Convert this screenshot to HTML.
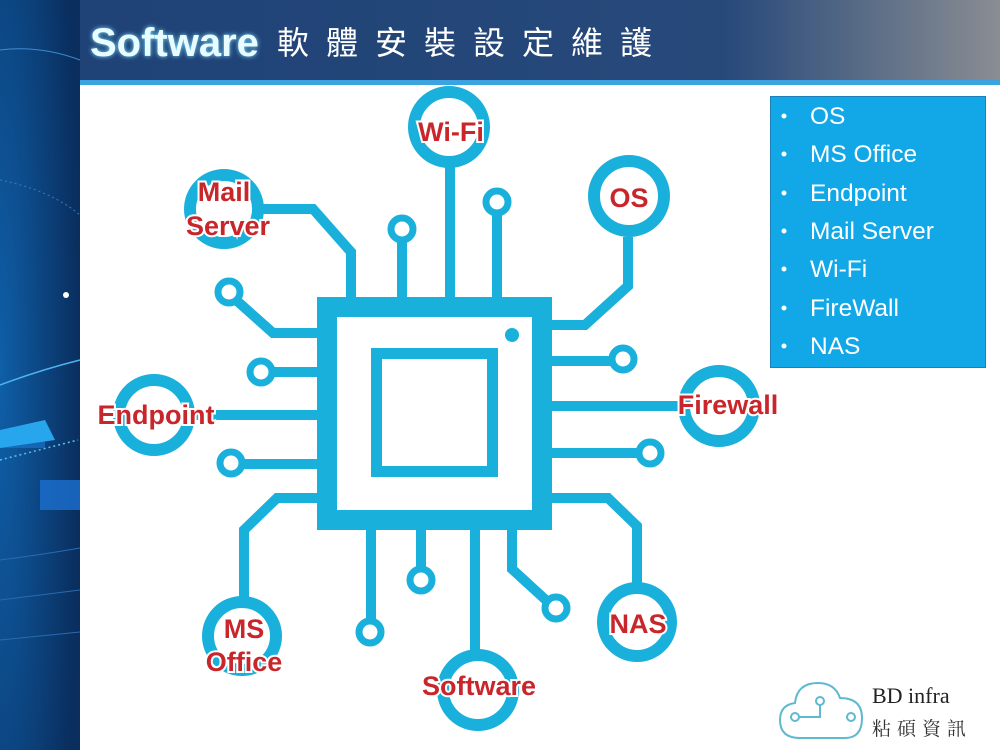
<!DOCTYPE html>
<html><head><meta charset="utf-8"><style>
html,body{margin:0;padding:0;width:1000px;height:750px;overflow:hidden;background:#fff}
svg{display:block}
.lbl{font-family:"Liberation Sans",sans-serif;font-weight:bold;font-size:27px;fill:#c8262b;stroke:#fff;stroke-width:4px;paint-order:stroke;text-anchor:middle}
.li{font-family:"Liberation Sans",sans-serif;font-size:24.5px;fill:#fff}
</style></head><body>
<svg width="1000" height="750" viewBox="0 0 1000 750" xmlns="http://www.w3.org/2000/svg">
<defs>
<linearGradient id="tb" x1="0" x2="1" y1="0" y2="0">
<stop offset="0" stop-color="#1f4277"/><stop offset="0.7" stop-color="#27497a"/><stop offset="1" stop-color="#8a8d92"/>
</linearGradient>
<radialGradient id="lp" cx="0" cy="0.5" r="1">
<stop offset="0" stop-color="#0f5fa8"/><stop offset="1" stop-color="#0a2e5e"/>
</radialGradient>
<filter id="gl"><feGaussianBlur stdDeviation="2.5"/></filter>
</defs>
<rect x="0" y="0" width="80" height="750" fill="url(#lp)"/>
<path d="M0 50 Q40 45 80 60" stroke="#3d8ad0" stroke-width="1" fill="none"/>
<path d="M0 180 Q50 190 80 215" stroke="#2f7fd0" stroke-width="1" fill="none" stroke-dasharray="2 3"/>
<path d="M0 385 Q40 370 80 360" stroke="#4db4f0" stroke-width="1.5" fill="none"/>
<path d="M0 460 L78 440" stroke="#5bc0f0" stroke-width="1.5" fill="none" stroke-dasharray="2 3"/>
<rect x="0" y="430" width="45" height="18" fill="#1a7ad0" opacity="0.6"/>
<path d="M0 430 L45 420 L55 440 L0 448Z" fill="#27a6ee"/>
<rect x="40" y="480" width="40" height="30" fill="#1b6fd0" opacity="0.8"/>
<circle cx="66" cy="295" r="3" fill="#fff"/>
<path d="M0 560 Q40 555 80 548 M0 600 Q40 595 80 590 M0 640 Q40 636 80 632" stroke="#2a6ab0" stroke-width="1" fill="none"/>
<rect x="80" y="0" width="920" height="82" fill="url(#tb)"/>
<rect x="80" y="80" width="920" height="5" fill="#3aa3e0"/>
<text x="90" y="56" font-family="Liberation Sans,sans-serif" font-weight="bold" font-size="40" fill="#7fe0ff" filter="url(#gl)">Software</text>
<text x="90" y="56" font-family="Liberation Sans,sans-serif" font-weight="bold" font-size="40" fill="#e8fbff">Software</text>
<text x="277" y="54" font-family="Liberation Sans,'Noto Sans CJK TC',sans-serif" font-size="32" fill="#fff" letter-spacing="17">軟體安裝設定維護</text>
<g stroke="#1ab0dc" fill="none">
<rect x="327" y="307" width="215" height="213" stroke-width="20"/>
<rect x="376.5" y="353.5" width="116" height="118" stroke-width="11"/>
<g stroke-width="10" stroke-linejoin="miter">
<polyline points="262,209 313,209 351,252 351,297"/>
<line x1="402" y1="240" x2="402" y2="297"/>
<line x1="450" y1="167" x2="450" y2="297"/>
<line x1="497" y1="214" x2="497" y2="297"/>
<polyline points="628,237 628,286 585,325 552,325"/>
<line x1="552" y1="361" x2="611" y2="361"/>
<line x1="552" y1="406" x2="680" y2="406"/>
<line x1="552" y1="453" x2="638" y2="453"/>
<polyline points="552,498 608,498 637,526 637,583"/>
<line x1="371" y1="530" x2="371" y2="622"/>
<line x1="421" y1="530" x2="421" y2="568"/>
<line x1="475" y1="530" x2="475" y2="650"/>
<polyline points="512,530 512,569 548,602"/>
<polyline points="317,333 273,333 236,300"/>
<line x1="317" y1="372" x2="272" y2="372"/>
<line x1="317" y1="415" x2="192" y2="415"/>
<line x1="317" y1="464" x2="243" y2="464"/>
<polyline points="317,498 277,498 244,530 244,598"/>
</g>
<g stroke-width="12">
<circle cx="224" cy="209" r="34"/>
<circle cx="449" cy="127" r="35"/>
<circle cx="629" cy="196" r="35"/>
<circle cx="719" cy="406" r="35"/>
<circle cx="637" cy="622" r="34"/>
<circle cx="478" cy="690" r="35"/>
<circle cx="242" cy="636" r="34"/>
<circle cx="154" cy="415" r="35"/>
</g>
<g stroke-width="7">
<circle cx="402" cy="229" r="11"/>
<circle cx="497" cy="202" r="11"/>
<circle cx="229" cy="292" r="11"/>
<circle cx="261" cy="372" r="11"/>
<circle cx="231" cy="463" r="11"/>
<circle cx="623" cy="359" r="11"/>
<circle cx="650" cy="453" r="11"/>
<circle cx="421" cy="580" r="11"/>
<circle cx="370" cy="632" r="11"/>
<circle cx="556" cy="608" r="11"/>
</g>
</g>
<circle cx="512" cy="335" r="7" fill="#1ab0dc"/>
<text class="lbl" x="451" y="141">Wi-Fi</text>
<text class="lbl" x="224" y="201">Mail</text>
<text class="lbl" x="228" y="235">Server</text>
<text class="lbl" x="629" y="207">OS</text>
<text class="lbl" x="156" y="424">Endpoint</text>
<text class="lbl" x="728" y="414">Firewall</text>
<text class="lbl" x="638" y="633">NAS</text>
<text class="lbl" x="244" y="638">MS</text>
<text class="lbl" x="244" y="671">Office</text>
<text class="lbl" x="479" y="695">Software</text>
<rect x="770.5" y="96.5" width="215" height="271" fill="#12a8e8" stroke="#1f7fb8" stroke-width="1"/>
<g class="li">
<circle cx="784" cy="116" r="2.5"/><text x="810" y="124">OS</text>
<circle cx="784" cy="154" r="2.5"/><text x="810" y="162">MS Office</text>
<circle cx="784" cy="193" r="2.5"/><text x="810" y="201">Endpoint</text>
<circle cx="784" cy="231" r="2.5"/><text x="810" y="239">Mail Server</text>
<circle cx="784" cy="269" r="2.5"/><text x="810" y="277">Wi-Fi</text>
<circle cx="784" cy="308" r="2.5"/><text x="810" y="316">FireWall</text>
<circle cx="784" cy="346" r="2.5"/><text x="810" y="354">NAS</text>
</g>
<g stroke="#5fb9cf" stroke-width="2" fill="none">
<path d="M800 738 Q780 738 780 720 Q780 705 795 703 Q797 683 818 683 Q835 683 840 698 Q862 698 862 718 Q862 738 845 738 Z"/>
<circle cx="795" cy="717" r="4"/><path d="M799 717 L820 717 L820 705"/>
<circle cx="820" cy="701" r="4"/><circle cx="851" cy="717" r="4"/>
</g>
<text x="872" y="703" font-family="Liberation Serif,serif" font-size="22" fill="#222">BD infra</text>
<text x="872" y="735" font-family="Liberation Serif,'Noto Serif CJK SC',serif" font-size="19" fill="#333" letter-spacing="6">粘碩資訊</text>
</svg>
</body></html>
